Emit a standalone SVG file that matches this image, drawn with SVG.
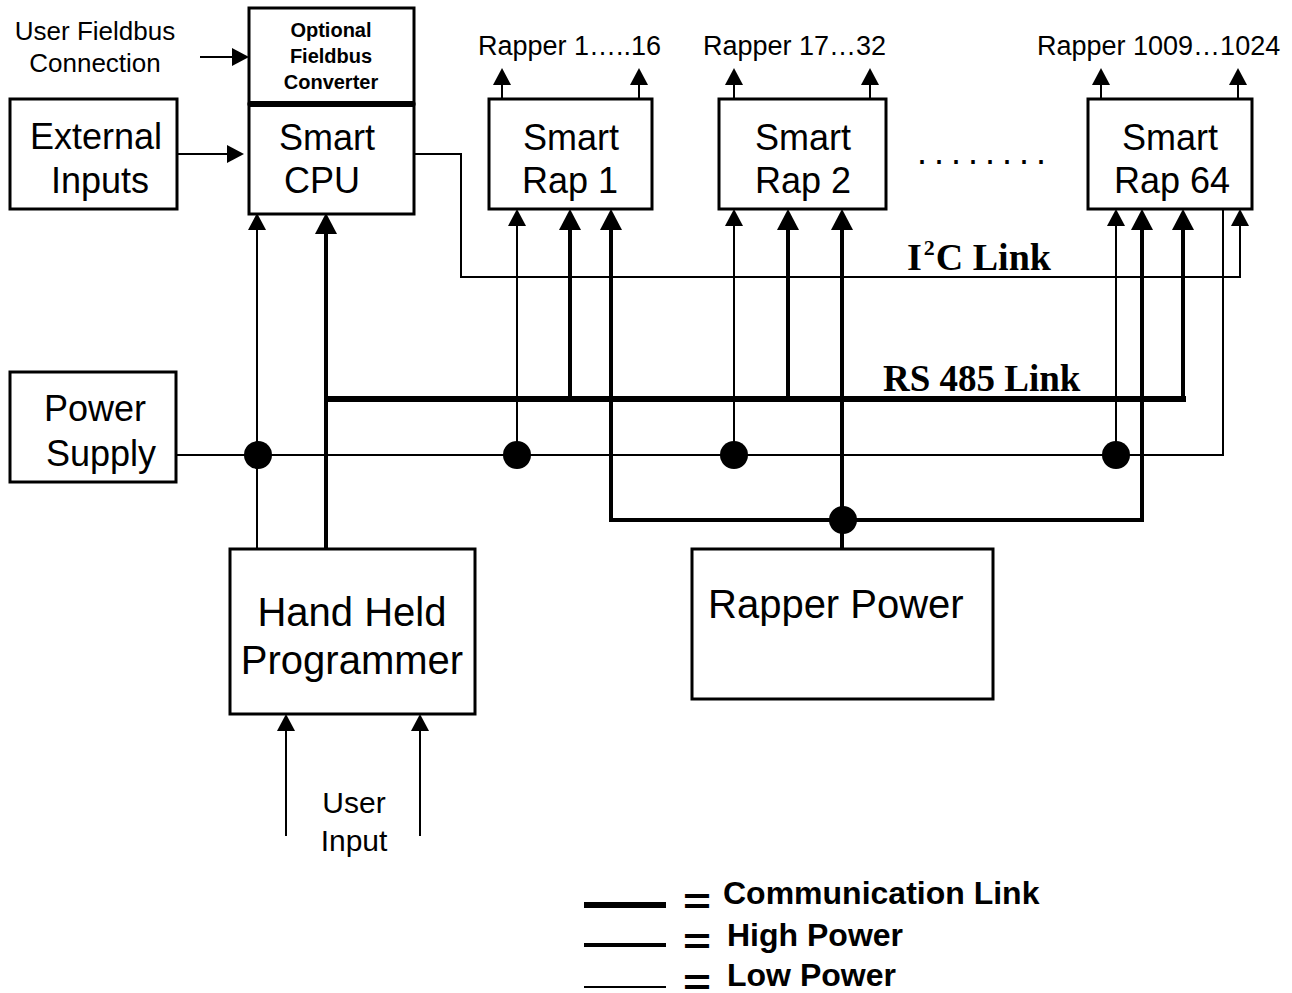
<svg xmlns="http://www.w3.org/2000/svg" width="1292" height="993" viewBox="0 0 1292 993">
<style>
.box{fill:#fff;stroke:#000;stroke-width:3}
.t{font-family:"Liberation Sans",Arial,sans-serif;fill:#000}
.lg{font-size:36px;text-anchor:middle}
.sm{font-size:26px}
.rl{font-size:27px}
.b{font-weight:bold}
.serif{font-family:"Liberation Serif","Times New Roman",serif;font-weight:bold;fill:#000}
.lo{fill:none;stroke:#000;stroke-width:2}
.hi{fill:none;stroke:#000;stroke-width:4}
.cm{fill:none;stroke:#000;stroke-width:6}
.dot{fill:#000}
.eq{font-family:"Liberation Sans",Arial,sans-serif;font-weight:bold;font-size:36px;fill:#000}
</style>
<defs>
<marker id="aThin" markerUnits="userSpaceOnUse" markerWidth="20" markerHeight="20" refX="8" refY="9" orient="auto" viewBox="0 0 20 20">
<path d="M0,0 L17,9 L0,18 z" fill="#000"/>
</marker>
<marker id="aThick" markerUnits="userSpaceOnUse" markerWidth="24" markerHeight="24" refX="10" refY="11" orient="auto" viewBox="0 0 24 24">
<path d="M0,0 L21,11 L0,22 z" fill="#000"/>
</marker>
</defs>
<rect width="1292" height="993" fill="#fff"/>

<g id="connectors">
<line class="lo" x1="200" y1="57" x2="240" y2="57" marker-end="url(#aThin)"/>
<line class="lo" x1="177" y1="154" x2="235" y2="154" marker-end="url(#aThin)"/>
<polyline class="lo" points="408,154 461,154 461,277 1240,277 1240,218" marker-end="url(#aThin)"/>
<polyline class="lo" points="177,455 1223,455 1223,209"/>
<line class="lo" x1="257" y1="549" x2="257" y2="222" marker-end="url(#aThin)"/>
<line class="lo" x1="517" y1="455" x2="517" y2="218" marker-end="url(#aThin)"/>
<line class="lo" x1="734" y1="455" x2="734" y2="218" marker-end="url(#aThin)"/>
<line class="lo" x1="1116" y1="455" x2="1116" y2="218" marker-end="url(#aThin)"/>
<line class="lo" x1="502" y1="99" x2="502" y2="77" marker-end="url(#aThin)"/>
<line class="lo" x1="639" y1="99" x2="639" y2="77" marker-end="url(#aThin)"/>
<line class="lo" x1="734" y1="99" x2="734" y2="77" marker-end="url(#aThin)"/>
<line class="lo" x1="870" y1="99" x2="870" y2="77" marker-end="url(#aThin)"/>
<line class="lo" x1="1101" y1="99" x2="1101" y2="77" marker-end="url(#aThin)"/>
<line class="lo" x1="1238" y1="99" x2="1238" y2="77" marker-end="url(#aThin)"/>
<line class="lo" x1="286" y1="836" x2="286" y2="723" marker-end="url(#aThin)"/>
<line class="lo" x1="420" y1="836" x2="420" y2="723" marker-end="url(#aThin)"/>
<line class="hi" x1="326" y1="549" x2="326" y2="224" marker-end="url(#aThick)"/>
<line class="hi" x1="570" y1="399" x2="570" y2="220" marker-end="url(#aThick)"/>
<line class="hi" x1="611" y1="522" x2="611" y2="220" marker-end="url(#aThick)"/>
<line class="hi" x1="788" y1="399" x2="788" y2="220" marker-end="url(#aThick)"/>
<line class="hi" x1="842" y1="549" x2="842" y2="220" marker-end="url(#aThick)"/>
<line class="hi" x1="1142" y1="522" x2="1142" y2="220" marker-end="url(#aThick)"/>
<line class="hi" x1="1183" y1="401" x2="1183" y2="220" marker-end="url(#aThick)"/>
<line class="hi" x1="609" y1="520" x2="1144" y2="520"/>
<line class="cm" x1="326" y1="399" x2="1186" y2="399"/>
<circle class="dot" cx="258" cy="455" r="14"/>
<circle class="dot" cx="517" cy="455" r="14"/>
<circle class="dot" cx="734" cy="455" r="14"/>
<circle class="dot" cx="1116" cy="455" r="14"/>
<circle class="dot" cx="843" cy="520" r="14"/>
<text class="serif" x="907" y="270" font-size="38">I<tspan font-size="22" dx="2" dy="-15">2</tspan><tspan dx="1" dy="15">C Link</tspan></text>
<text class="serif" x="883" y="391" font-size="37">RS 485 Link</text>
</g>

<g id="fieldbus-label">
<text class="t sm" x="95" y="40" text-anchor="middle">User Fieldbus</text>
<text class="t sm" x="95" y="72" text-anchor="middle">Connection</text>
</g>

<g id="fieldbus-converter">
<rect class="box" x="249" y="8" width="165" height="96"/>
<text class="t b" x="331" y="37" font-size="20" text-anchor="middle">Optional</text>
<text class="t b" x="331" y="63" font-size="20" text-anchor="middle">Fieldbus</text>
<text class="t b" x="331" y="89" font-size="20" text-anchor="middle">Converter</text>
</g>

<g id="smart-cpu">
<rect class="box" x="249" y="104" width="165" height="110"/>
<line x1="249" y1="104" x2="414" y2="104" stroke="#000" stroke-width="6"/>
<text class="t lg" x="327" y="150">Smart</text>
<text class="t lg" x="322" y="193">CPU</text>
</g>

<g id="external-inputs">
<rect class="box" x="10" y="99" width="167" height="110"/>
<text class="t lg" x="96" y="149">External</text>
<text class="t lg" x="100" y="193">Inputs</text>
</g>

<g id="smart-rap-1">
<rect class="box" x="489" y="99" width="163" height="110"/>
<text class="t lg" x="571" y="150">Smart</text>
<text class="t lg" x="570" y="193">Rap 1</text>
<text class="t rl" x="478" y="55">Rapper 1…..16</text>
</g>

<g id="smart-rap-2">
<rect class="box" x="719" y="99" width="167" height="110"/>
<text class="t lg" x="803" y="150">Smart</text>
<text class="t lg" x="803" y="193">Rap 2</text>
<text class="t rl" x="703" y="55">Rapper 17…32</text>
</g>

<g id="ellipsis">
<text class="t" x="917" y="164" font-size="36" letter-spacing="7">........</text>
</g>

<g id="smart-rap-64">
<rect class="box" x="1088" y="99" width="164" height="110"/>
<text class="t lg" x="1170" y="150">Smart</text>
<text class="t lg" x="1172" y="193">Rap 64</text>
<text class="t rl" x="1037" y="55">Rapper 1009…1024</text>
</g>

<g id="power-supply">
<rect class="box" x="10" y="372" width="166" height="110"/>
<text class="t lg" x="95" y="421">Power</text>
<text class="t lg" x="101" y="466">Supply</text>
</g>

<g id="hand-held-programmer">
<rect class="box" x="230" y="549" width="245" height="165"/>
<text class="t" x="352" y="626" font-size="40" text-anchor="middle">Hand Held</text>
<text class="t" x="352" y="674" font-size="40" text-anchor="middle">Programmer</text>
</g>

<g id="user-input">
<text class="t" x="354" y="813" font-size="30" text-anchor="middle">User</text>
<text class="t" x="354" y="851" font-size="30" text-anchor="middle">Input</text>
</g>

<g id="rapper-power">
<rect class="box" x="692" y="549" width="301" height="150"/>
<text class="t" x="708" y="618" font-size="40">Rapper Power</text>
</g>

<g id="legend">
<line x1="584" y1="905" x2="666" y2="905" stroke="#000" stroke-width="6"/>
<line x1="584" y1="945" x2="666" y2="945" stroke="#000" stroke-width="4"/>
<line x1="584" y1="987" x2="666" y2="987" stroke="#000" stroke-width="2"/>
<text class="eq" x="683" y="914" textLength="28" lengthAdjust="spacingAndGlyphs">=</text>
<text class="eq" x="683" y="954" textLength="28" lengthAdjust="spacingAndGlyphs">=</text>
<text class="eq" x="683" y="995" textLength="28" lengthAdjust="spacingAndGlyphs">=</text>
<text class="t b" x="723" y="904" font-size="32">Communication Link</text>
<text class="t b" x="727" y="946" font-size="32">High Power</text>
<text class="t b" x="727" y="986" font-size="32">Low Power</text>
</g>
</svg>
